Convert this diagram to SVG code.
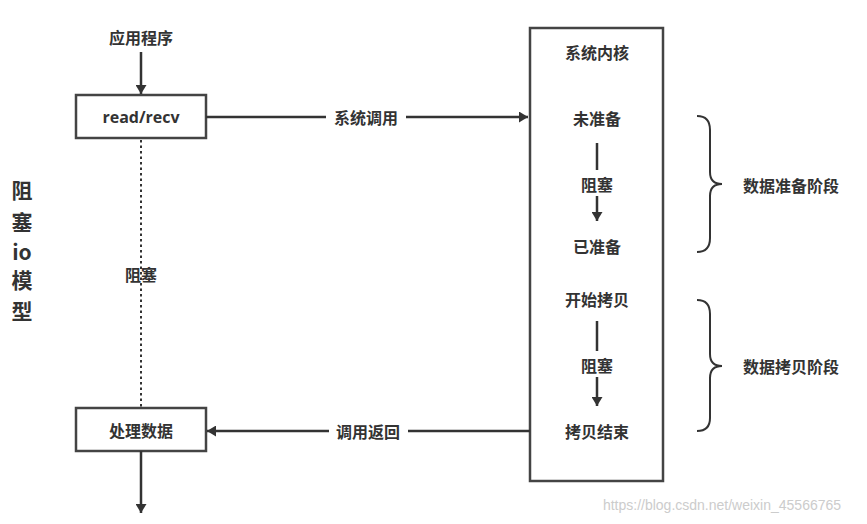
<svg xmlns="http://www.w3.org/2000/svg" width="867" height="524" viewBox="0 0 867 524">
<defs>
<marker id="ah" viewBox="0 0 10 10" refX="10" refY="5" markerWidth="9" markerHeight="11" orient="auto-start-reverse" markerUnits="userSpaceOnUse" preserveAspectRatio="none"><path d="M0,0 L10,5 L0,10 z" fill="#333"/></marker>
<style>
text{font-family:"Noto Sans CJK SC","Noto Sans",sans-serif;fill:#333;font-size:16px;font-weight:bold;text-anchor:middle;dominant-baseline:central}
.box{fill:#fff;stroke:#444;stroke-width:2.5}
.ln{stroke:#333;stroke-width:2.5;fill:none}
.big{font-size:21px}
</style>
</defs>
<rect width="867" height="524" fill="#fff"/>
<g id="app"><text x="141" y="37">应用程序</text></g>
<g id="read"><rect class="box" x="76" y="95" width="130" height="43"/><text x="141" y="117" style="font-family:'Open Sans',sans-serif">read/recv</text></g>
<g id="process"><rect class="box" x="76" y="408" width="130" height="43"/><text x="141" y="430">处理数据</text></g>
<g id="kernel">
<rect class="box" x="530" y="28" width="133" height="453"/>
<text x="597" y="52">系统内核</text>
<text x="597" y="118">未准备</text>
<text x="597" y="184">阻塞</text>
<text x="597" y="246">已准备</text>
<text x="597" y="299">开始拷贝</text>
<text x="597" y="365">阻塞</text>
<text x="597" y="431">拷贝结束</text>
</g>
<g id="connectors">
<line class="ln" x1="141" y1="52" x2="141" y2="94" marker-end="url(#ah)"/>
<line class="ln" x1="141" y1="140" x2="141" y2="407" style="stroke-dasharray:2.5 3;stroke-width:2"/>
<text x="141" y="274">阻塞</text>
<line class="ln" x1="206" y1="117" x2="326" y2="117"/>
<line class="ln" x1="406" y1="117" x2="528" y2="117" marker-end="url(#ah)"/>
<text x="366" y="117">系统调用</text>
<line class="ln" x1="530" y1="431" x2="408" y2="431"/>
<line class="ln" x1="329" y1="431" x2="207" y2="431" marker-end="url(#ah)"/>
<text x="368" y="431">调用返回</text>
<line class="ln" x1="141" y1="451" x2="141" y2="513" marker-end="url(#ah)"/>
<line class="ln" x1="597" y1="143" x2="597" y2="170"/>
<line class="ln" x1="597" y1="196" x2="597" y2="221" marker-end="url(#ah)"/>
<line class="ln" x1="597" y1="321" x2="597" y2="351"/>
<line class="ln" x1="597" y1="377" x2="597" y2="406" marker-end="url(#ah)"/>
</g>
<g id="brace1"><path class="ln" d="M697,116 Q710,116 710,130 L710,172 Q710,184 722,184 Q710,184 710,196 L710,238 Q710,252 697,252" style="stroke-width:2"/><text x="791" y="185">数据准备阶段</text></g>
<g id="brace2"><path class="ln" d="M697,300 Q710,300 710,314 L710,354 Q710,366 722,366 Q710,366 710,378 L710,418 Q710,431 697,431" style="stroke-width:2"/><text x="791" y="366">数据拷贝阶段</text></g>
<g id="title">
<text class="big" x="22" y="189">阻</text>
<text class="big" x="22" y="221">塞</text>
<text class="big" x="22" y="251">io</text>
<text class="big" x="22" y="279">模</text>
<text class="big" x="22" y="310">型</text>
</g>
<text x="722" y="505" style="fill:#ccc;font-size:14px;font-weight:normal;font-family:'Liberation Sans',sans-serif">https://blog.csdn.net/weixin_45566765</text>
</svg>
